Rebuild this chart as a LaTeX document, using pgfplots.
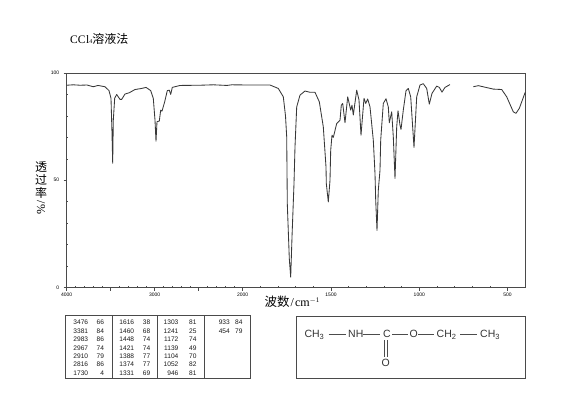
\documentclass[border=0pt]{standalone}
\usepackage{fontspec}
\usepackage{pgfplots}
\pgfplotsset{compat=1.18}
\setmainfont{Liberation Serif}
\newfontfamily\cjk{Noto Sans CJK SC}
\newfontfamily\sansf{Liberation Sans}
\newcommand{\fs}[1]{\fontsize{#1}{#1}\selectfont}
\definecolor{ax}{HTML}{4A4A4A}
\definecolor{ln}{HTML}{383838}
\begin{document}
\begin{tikzpicture}
\begin{axis}[
  at={(66.7pt,-287.5pt)}, anchor=south west,
  scale only axis, width=458.8pt, height=214.5pt,
  xmin=66.7, xmax=525.5, ymin=0, ymax=100,
  axis line style={color=ax,line width=0.9pt},
  xtick pos=bottom, ytick pos=left,
  tick align=outside,
  xtick={66.7,110.7,154.7,198.7,242.7,331,419.3,507.6},
  xticklabels={4000,,3000,,2000,1500,1000,500},
  minor xtick={75.5,84.3,93.1,101.9,119.5,128.3,137.1,145.9,163.5,172.3,181.1,189.9,207.5,216.3,225.1,233.9,260.4,278,295.7,313.3,348.7,366.3,384,401.6,437,454.6,472.3,489.9,525.2},
  ytick={0,50,100}, yticklabels={0,50,100},
  minor ytick={10,20,30,40,60,70,80,90},
  major tick length=3pt, minor tick length=1.5pt,
  every tick/.style={color=ax,line width=0.6pt},
  minor x tick style={yshift=1.5pt},
  minor y tick style={xshift=1.5pt},
  ticklabel style={font=\sansf\fs{5},text=black},
  xticklabel style={yshift=1pt},
  yticklabel style={xshift=-1pt},
]
\addplot[color=ln,line width=0.85pt,line join=round] coordinates {
(66.7,94.3)(73.3,94.5)(80,94.3)(87,94.4)(93.3,93.6)(98,94.2)(105,93.6)(109,91.8)(111,88.2)(112,71.9)(112.7,57.9)(113.3,78)(114.7,88.3)(116.7,90)(120,87.7)(121.7,87.7)(125,90.2)(129.3,90.8)(135,92.3)(141.7,92.8)(146,93.3)(150.7,91.8)(153.3,88.2)(155,78)(156,68.2)(157,77.3)(159.3,77.6)(160.7,82.7)(162,82.2)(164.7,86.6)(167.3,91.8)(169.3,92)(170.7,90)(172.3,93.3)(180,94.2)(200,94.3)(213.3,94.5)(227,94.2)(231.7,94.5)(250,94.4)(270,94.4)(278.3,92.8)(283.3,88.9)(285.5,80)(286.7,70.2)(287.3,39)(289.3,13.5)(290.7,4.8)(292,23.5)(294,48.5)(295,65.6)(296.7,84.2)(300,89.7)(305,91.6)(310,91)(315,91)(319.3,86.6)(323.3,74.9)(326,56.2)(326.3,48.5)(328.3,39.9)(330,50)(330.7,64)(332,71)(333.3,70)(336.7,76.4)(340,78)(341.3,85)(342.7,85.8)(345,76.8)(347.7,88.9)(350.7,82.7)(352,85)(353.3,80.4)(356.7,92)(359,87.4)(361,71)(364,88.2)(365.7,85.8)(367.7,87.9)(370,84.2)(373.3,68.7)(375,53.1)(375.7,40.7)(377,26.6)(378.3,45.3)(380,54.7)(380.7,68.7)(383.3,85.8)(386,88)(388.3,84.2)(389.3,76.8)(391.7,81.9)(393.3,70.2)(395,50.8)(396.7,74.9)(398,82.4)(400,75.7)(401,73.7)(403.3,82.7)(406,91.7)(408.3,92.8)(410.7,88.9)(414,65.3)(416.7,88.9)(420,94.4)(423.3,95)(426.7,92.8)(429.3,85.5)(432,90.5)(436.7,93.9)(439.3,93.3)(442,91.1)(445,93.3)(450,94.6)
};
\addplot[color=ln,line width=0.85pt,line join=round] coordinates {
(473.3,93.6)(478.3,94.1)(493.3,92.5)(501.7,92.3)(506.7,88.9)(513.3,81.9)(516,81.2)(519.3,83.5)(525.2,91)
};
\end{axis}
\begin{scope}[x=1pt,y=-1pt]
\path[use as bounding box] (0,0) rectangle (570,418);
% title
\node[anchor=base west,inner sep=0pt] at (70,43.5) {\fs{11.5}CC\kern0.6pt l\raisebox{-0.3pt}{\fs{6}4}{\cjk\fs{12}溶液法}};
% y label
\node[inner sep=0pt] at (41,167.5) {\cjk\fs{12}透};
\node[inner sep=0pt] at (41,180) {\cjk\fs{12}过};
\node[inner sep=0pt] at (41,192.5) {\cjk\fs{12}率};
\node[inner sep=0pt,rotate=-90] at (41,207.5) {\fs{12}/\%};
% x label
\node[anchor=base west,inner sep=0pt] at (264.5,306) {{\cjk\fs{12.5}波数}\fs{12}\kern1pt/\kern1pt cm\raisebox{3.5pt}{\fs{7}$-$1}};
% table
\draw[color=ax,line width=0.8pt] (65.7,315.7) rectangle (250,378.3);
\foreach \x in {112.3,157.7,204.3} \draw[color=ax,line width=0.8pt] (\x,315.7) -- (\x,378.3);
\foreach \xa/\xb/\rows in {
 88.3/104.2/{3476/66/324.5,3381/84/333,2983/86/341.5,2967/74/350,2910/79/358.3,2816/86/366.6,1730/4/375},
 134.3/150.5/{1616/38/324.5,1460/68/333,1448/74/341.5,1421/74/350,1388/77/358.3,1374/77/366.6,1331/69/375},
 178.6/196.7/{1303/81/324.5,1241/25/333,1172/74/341.5,1139/49/350,1104/70/358.3,1052/82/366.6,946/81/375},
 230/242.7/{933/84/324.5,454/79/333}} {
  \foreach \a/\b/\y in \rows {
    \node[anchor=base east,inner sep=0pt,text=black!90] at (\xa,\y) {\sansf\fs{6.6}\a};
    \node[anchor=base east,inner sep=0pt,text=black!90] at (\xb,\y) {\sansf\fs{6.6}\b};
  }
}
% structure
\draw[color=ax,line width=0.9pt] (296,316.7) rectangle (525.7,378.3);
\begin{scope}[every node/.style={inner sep=0pt,anchor=base west,text=black!80}]
\node at (304.3,337.5) {\sansf\fs{10.5}CH\raisebox{-2pt}{\fs{7.5}3}};
\node at (348,337.5) {\sansf\fs{10.5}NH};
\node at (383,337.5) {\sansf\fs{10.5}C};
\node at (409.5,337.5) {\sansf\fs{10.5}O};
\node at (436.5,337.5) {\sansf\fs{10.5}CH\raisebox{-2pt}{\fs{7.5}2}};
\node at (480,337.5) {\sansf\fs{10.5}CH\raisebox{-2pt}{\fs{7.5}3}};
\node at (381.5,366.5) {\sansf\fs{10.5}O};
\end{scope}
\draw[color=black!70,line width=0.55pt] (328.5,334) -- (346,334);
\draw[color=black!70,line width=0.55pt] (363,334) -- (380,334);
\draw[color=black!70,line width=0.55pt] (392,334) -- (408,334);
\draw[color=black!70,line width=0.55pt] (418,334) -- (434,334);
\draw[color=black!70,line width=0.55pt] (460,334) -- (477,334);
\draw[color=black!70,line width=0.55pt] (384,340) -- (384,357);
\draw[color=black!70,line width=0.55pt] (386.8,340) -- (386.8,357);
\end{scope}
\end{tikzpicture}
\end{document}
